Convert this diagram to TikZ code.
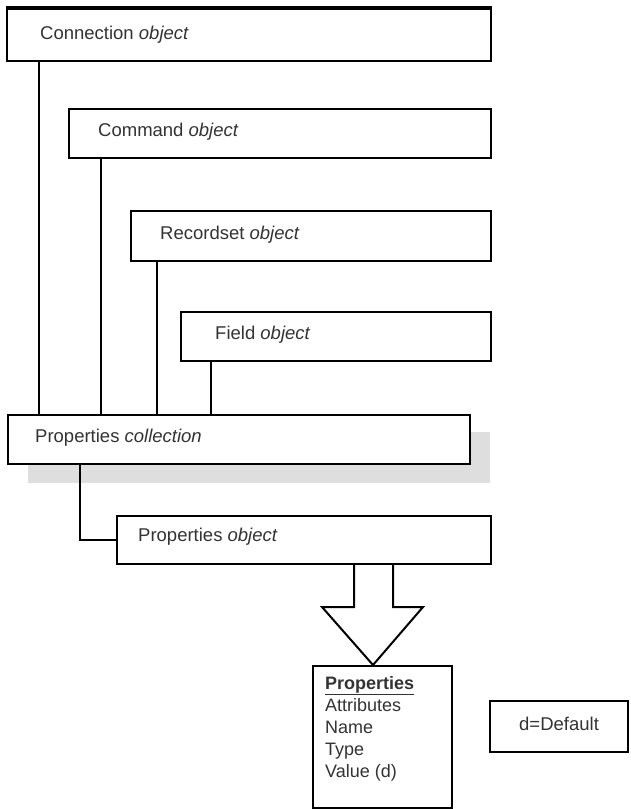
\documentclass[tikz,border=0pt]{standalone}
\usepackage{fontspec}
\setmainfont{Liberation Sans}
\begin{document}
\begin{tikzpicture}[x=1pt,y=-1pt,
  box/.style={draw=black,line width=2pt,fill=white,inner sep=0pt,anchor=north west},
  lbl/.style={anchor=west,inner sep=0pt,text=black!80,font=\fontsize{18.5}{22}\selectfont},
  conn/.style={draw=black,line width=2pt}]
\useasboundingbox (0,0) rectangle (630,809);
% boxes
\node[box,minimum width=484pt,minimum height=52pt] (connbox) at (6,8) {};
\draw[line width=4pt] (connbox.north west) -- (connbox.north east);
\node[lbl] (conntxt) at (40,35) {Connection \textit{object}};
\node[box,minimum width=422pt,minimum height=49pt] (cmdbox) at (68,108) {};
\node[lbl] (cmdtxt) at (98,132) {Command \textit{object}};
\node[box,minimum width=360pt,minimum height=50pt] (rsbox) at (130,210) {};
\node[lbl] (rstxt) at (160,235) {Recordset \textit{object}};
\node[box,minimum width=310pt,minimum height=49pt] (fldbox) at (180,311) {};
\node[lbl] (fldtxt) at (215,335) {Field \textit{object}};
% shadow + collection
\fill[black!13] (28,432) rectangle (490,483);
\node[box,minimum width=462pt,minimum height=49pt] (coll) at (7,414) {};
\node[lbl] (colltxt) at (35,438) {Properties \textit{collection}};
\node[box,minimum width=374pt,minimum height=48pt] (pobj) at (116,515) {};
\node[lbl] (pobjtxt) at (138,537) {Properties \textit{object}};
% connectors
\draw[conn] (connbox.south -| 39,0) -- (coll.north -| 39,0);
\draw[conn] (cmdbox.south -| 101,0) -- (coll.north -| 101,0);
\draw[conn] (rsbox.south -| 157,0) -- (coll.north -| 157,0);
\draw[conn] (fldbox.south -| 211,0) -- (coll.north -| 211,0);
\draw[conn] (coll.south -| 80,0) |- (pobj.west);
% properties box
\node[box,minimum width=139pt,minimum height=142pt] (props) at (312,665) {};
\node[anchor=north west,inner sep=0pt,align=left,text=black!80,
  font=\fontsize{18}{22}\selectfont] (proptxt) at (325,676)
  {\underline{\textbf{Properties}}\\Attributes\\Name\\Type\\Value (d)};
% block arrow
\draw[line width=2pt,fill=white,line join=miter]
  (pobj.south -| 354,0) -- (354,607) -- (322,607) -- (props.north -| 373,0)
  -- (423,607) -- (393,607) -- (pobj.south -| 393,0);
% default box
\node[box,minimum width=138pt,minimum height=51pt] (dbox) at (489,700) {};
\node[lbl] (dtxt) at (519,724) {d=Default};
\end{tikzpicture}
\end{document}
